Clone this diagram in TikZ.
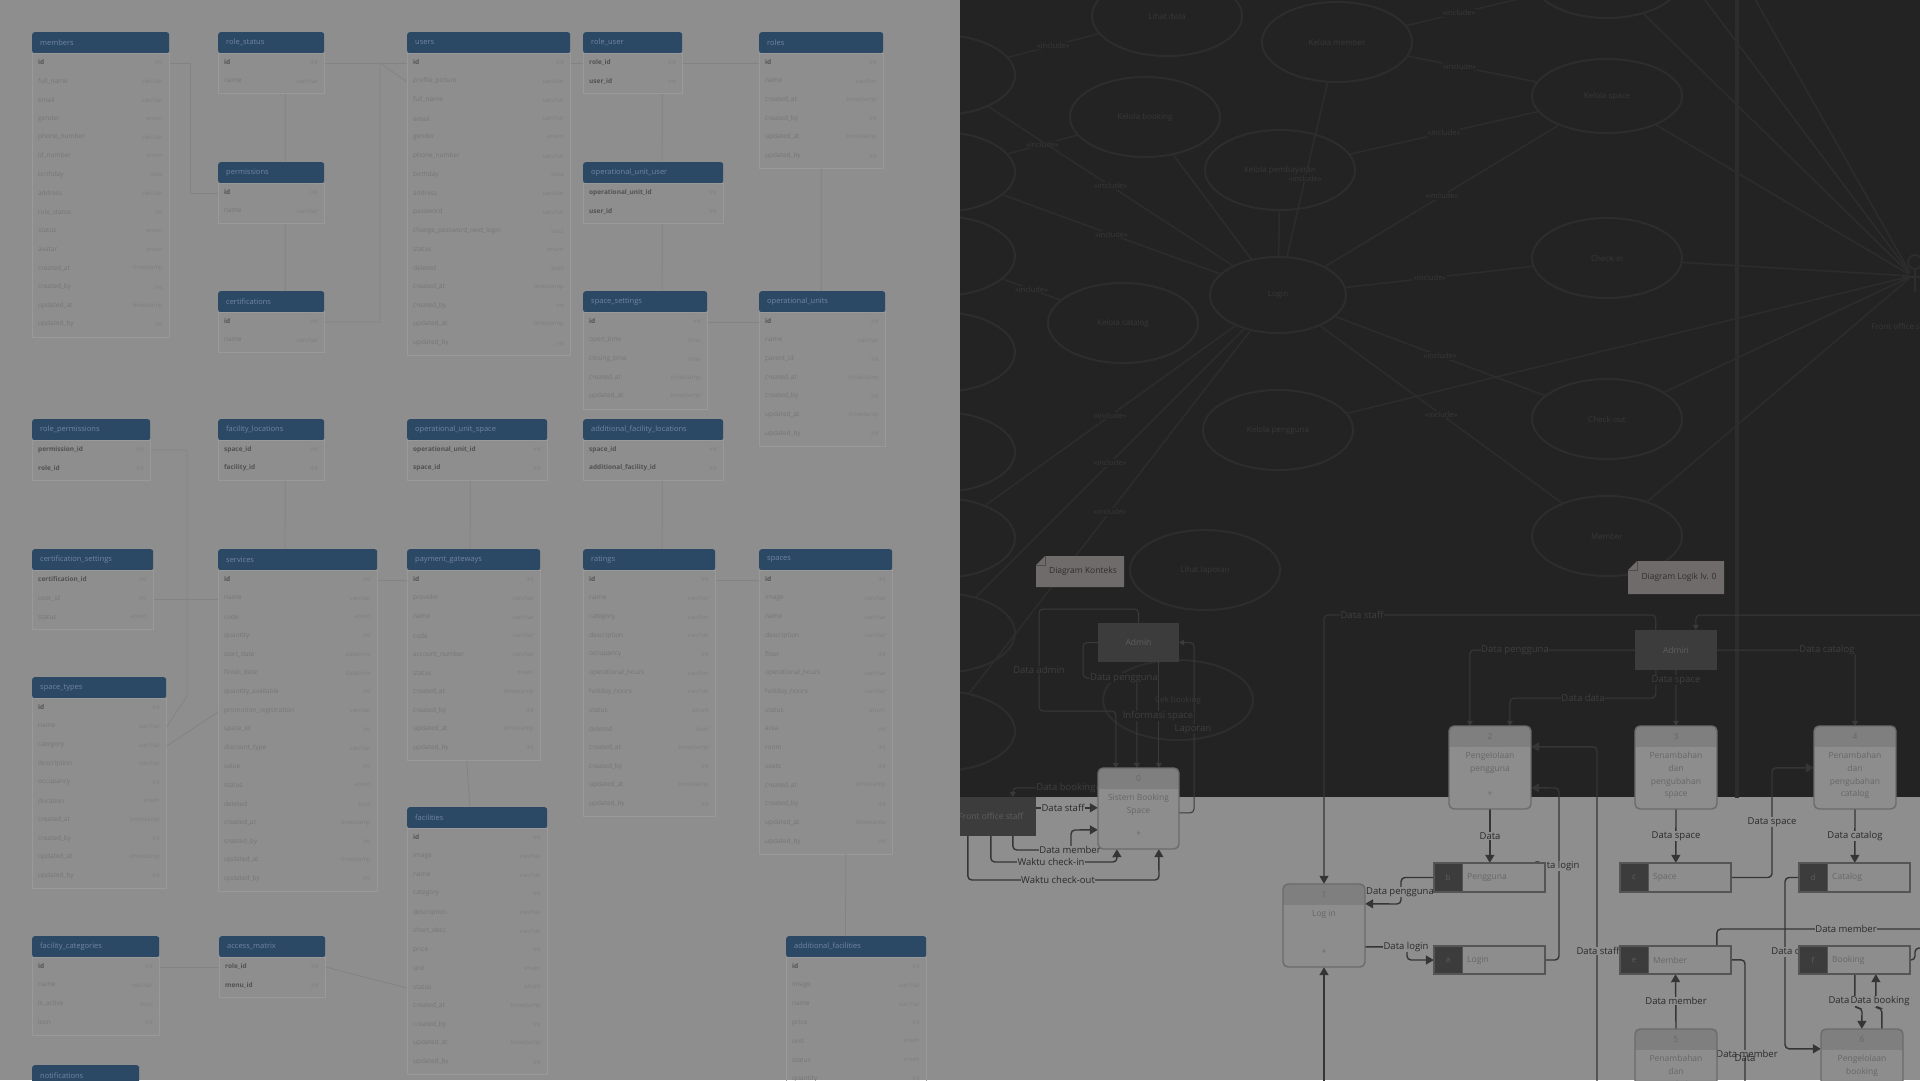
\documentclass[tikz,border=0pt]{standalone}
\usepackage{fontspec}
\setmainfont{Open Sans}
\usetikzlibrary{arrows.meta,shapes.geometric,calc}

\definecolor{lbg}{HTML}{8E8E8E}
\definecolor{dbg}{HTML}{232323}
\definecolor{hdr}{HTML}{2B4865}
\definecolor{hdrtxt}{HTML}{7187A0}
\definecolor{rowtxt}{HTML}{767676}
\definecolor{rowkey}{HTML}{525252}
\definecolor{ertypec}{HTML}{7F7F7F}
\definecolor{rowline}{HTML}{999999}
\definecolor{erlink}{HTML}{838383}
\definecolor{ucline}{HTML}{2C2C2C}
\definecolor{ucstroke}{HTML}{2D2D2D}
\definecolor{uctxt}{HTML}{383838}
\definecolor{flowc}{HTML}{353535}
\definecolor{dimc}{HTML}{3A3A3A}
\definecolor{flowtxt}{HTML}{2A2A2A}
\definecolor{dimtxt}{HTML}{3F3F3F}
\definecolor{procfill}{HTML}{8D8D8D}
\definecolor{prochdr}{HTML}{7F7F7F}
\definecolor{procline}{HTML}{6B6B6B}
\definecolor{proctxt}{HTML}{676767}
\definecolor{entfill}{HTML}{3C3C3C}
\definecolor{enttxt}{HTML}{5E5E5E}
\definecolor{storeline}{HTML}{555555}
\definecolor{notefill}{HTML}{6F6B6B}
\definecolor{notetxt}{HTML}{2E2E2E}

\pgfdeclarelayer{bgl}
\pgfdeclarelayer{ucl}
\pgfdeclarelayer{flowl}
\pgfdeclarelayer{topl}
\pgfsetlayers{bgl,ucl,flowl,main,topl}

\newcommand{\erkey}[1]{\textcolor{rowkey}{\textbf{#1}}}

\tikzset{
  erhead/.style={fill=hdr, rounded corners=2.5pt, inner sep=0pt, minimum height=21pt},
  erhtxt/.style={text=hdrtxt, font=\fontsize{7.5}{9}\selectfont, inner sep=0pt},
  erbody/.style={draw=rowline, line width=0.6pt, inner sep=0pt},
  errow/.style={text=rowtxt, font=\fontsize{6.5}{8}\selectfont, inner sep=0pt},
  ertype/.style={text=ertypec, font=\fontsize{6}{7}\selectfont, inner sep=0pt},
  erlk/.style={draw=erlink, line width=0.8pt},
  ucell/.style={ellipse, draw=ucstroke, line width=2pt, inner sep=0pt, minimum width=150pt, minimum height=80pt, text=uctxt, font=\fontsize{8}{10}\selectfont},
  ucln/.style={draw=ucline, line width=1.6pt},
  uclbl/.style={fill=dbg, inner sep=1pt, text=uctxt, font=\fontsize{7.5}{9}\selectfont},
  fl/.style={draw=flowc, line width=1.4pt, rounded corners=4pt},
  fla/.style={fl, -{Triangle[width=9pt,length=8pt]}},
  dl/.style={draw=dimc, line width=1pt, rounded corners=4pt},
  dla/.style={dl, -{Triangle[width=6pt,length=5pt]}},
  fll/.style={fill=lbg, inner sep=0.6pt, text=flowtxt, font=\fontsize{9.5}{11}\selectfont},
  fln/.style={inner sep=0.6pt, text=flowtxt, font=\fontsize{9.5}{11}\selectfont},
  dll/.style={fill=dbg, inner sep=0.6pt, text=dimtxt, font=\fontsize{9.5}{11}\selectfont},
  proctext/.style={text=proctxt, font=\fontsize{8.5}{12.7}\selectfont, inner sep=0pt},
  entbox/.style={fill=entfill, inner sep=0pt, text=enttxt, font=\fontsize{8.5}{10}\selectfont},
  storeid/.style={text=enttxt, font=\fontsize{8}{10}\selectfont, inner sep=0pt},
  notetext/.style={text=notetxt, font=\fontsize{8.5}{10}\selectfont, inner sep=0pt},
}

% ER table: id, x, y, width, title, number of rows, rows
\newcommand{\ertab}[7]{%
  \node[erhead, minimum width=#4pt, anchor=north west] (#1) at (#2,#3) {};
  \node[erhtxt, anchor=west] (#1-h) at (#2+8,#3+10.5) {#5};
  \node[erbody, minimum width=#4pt, minimum height={#6*18.7pt+3pt}, anchor=north west] (#1b) at (#2,#3+21) {};
  \foreach \rn/\rt [count=\k] in {#7} {
    \node[errow, anchor=west] (#1-c\k) at (#2+6, #3+21+9.5+18.7*\k-18.7) {\rn};
    \node[ertype, anchor=east] (#1-d\k) at (#2+#4-6, #3+21+9.5+18.7*\k-18.7) {\rt};
  }
}

% process: name, x1, y1, x2, y2, number, text, bottom mark
\newcommand{\procbox}[8]{%
  \begin{scope}
    \clip[rounded corners=5pt] (#2,#3) rectangle (#4,#5);
    \fill[procfill] (#2,#3) rectangle (#4,#5);
    \fill[prochdr] (#2,#3) rectangle (#4,#3+21);
  \end{scope}
  \draw[procline, line width=1.4pt, rounded corners=5pt] (#2,#3) rectangle (#4,#5);
  \node[inner sep=0pt, minimum width={#4pt-#2pt}, minimum height={#5pt-#3pt}] (#1) at ({(#2+#4)/2},{(#3+#5)/2}) {};
  \node[proctext] (#1-n) at ({(#2+#4)/2},#3+10.5) {#6};
  \node[proctext, anchor=north, align=center] (#1-t) at ({(#2+#4)/2},#3+26) {#7};
  \node[proctext] (#1-p) at ({(#2+#4)/2},#5-15) {#8};
}

% data store: name, x1, y1, x2, y2, id, text
\newcommand{\dstore}[7]{%
  \fill[entfill] (#2,#3) rectangle (#2+28,#5);
  \fill[procfill] (#2+28,#3) rectangle (#4,#5);
  \draw[storeline, line width=1.8pt] (#2,#3) rectangle (#4,#5);
  \draw[storeline, line width=0.8pt] (#2+28,#3) -- (#2+28,#5);
  \node[inner sep=0pt, minimum width={#4pt-#2pt}, minimum height={#5pt-#3pt}] (#1) at ({(#2+#4)/2},{(#3+#5)/2}) {};
  \node[storeid] (#1-i) at (#2+14,{(#3+#5)/2}) {#6};
  \node[proctext, anchor=west] (#1-t) at (#2+33,{(#3+#5)/2}) {#7};
}

% external entity: name, x1, y1, x2, y2, text
\newcommand{\extent}[6]{%
  \node[entbox, minimum width={#4pt-#2pt}, minimum height={#5pt-#3pt}] (#1) at ({(#2+#4)/2},{(#3+#5)/2}) {#6};
}

% note: name, x1, y1, x2, y2, text
\newcommand{\notebox}[6]{%
  \fill[notefill] (#2+9,#3) -- (#4,#3) -- (#4,#5) -- (#2,#5) -- (#2,#3+9) -- cycle;
  \draw[notetxt!50!notefill, line width=0.6pt] (#2,#3+9) -- (#2+9,#3+9) -- (#2+9,#3);
  \node[notetext] (#1) at ({(#2+#4)/2+3},{(#3+#5)/2}) {#6};
}

\begin{document}
\begin{tikzpicture}[x=1pt,y=-1pt]
\useasboundingbox (0,0) rectangle (1920,1080);

% ---------- backgrounds ----------
\begin{pgfonlayer}{bgl}
\fill[dbg] (960,0) rectangle (1920,797);
\fill[lbg] (960,797) rectangle (1920,1080);
\end{pgfonlayer}

% ---------- use case diagram (dark area) ----------
\begin{pgfonlayer}{ucl}
\begin{scope}
\clip (960,0) rectangle (1920,797);
\draw[ucstroke, line width=4pt] (1737,-5) -- (1737,800);
\node[ucell] (uc1) at (1167,16) {Lihat data};
\node[ucell] (uc2) at (1337,42) {Kelola member};
\node[ucell] (uc3) at (1145,117) {Kelola booking};
\node[ucell] (uc4) at (1280,170) {Kelola pembayaran};
\node[ucell, minimum width=136pt, minimum height=76pt] (uc5) at (1278,295) {Login};
\node[ucell] (uc6) at (1123,323) {Kelola catalog};
\node[ucell] (uc7) at (1278,430) {Kelola pengguna};
\node[ucell] (uc8) at (1205,570) {Lihat laporan};
\node[ucell] (uc9) at (1178,700) {Cek booking};
\node[ucell, minimum height=74pt] (uc10) at (1607,96) {Kelola space};
\node[ucell] (uc11) at (1607,258) {Check-in};
\node[ucell] (uc12) at (1607,419) {Check-out};
\node[ucell] (uc13) at (1607,536) {Member};
\node[ucell] (uc14) at (1607,-22) {Booking};
\node[ucell] (lf1) at (940,75) {Kelola data};
\node[ucell] (lf2) at (940,172) {Kelola data};
\node[ucell] (lf3) at (940,256) {Kelola data};
\node[ucell] (lf4) at (940,352) {Kelola data};
\node[ucell] (lf5) at (940,452) {Kelola data};
\node[ucell] (lf6) at (940,538) {Kelola data};
\node[ucell] (lf7) at (940,633) {Kelola data};
\node[ucell] (lf8) at (940,731) {Kelola data};
\node[inner sep=0pt, minimum size=6pt] (actor) at (1912,276) {};
\coordinate (offA) at (1660,-60);
\coordinate (offB) at (1710,-80);
\draw[ucstroke, line width=1.8pt] (1915,262) circle (7);
\draw[ucstroke, line width=1.8pt] (1915,269) -- (1915,292) (1902,277) -- (1928,277);
\node[anchor=west, text=uctxt, font=\fontsize{8}{10}\selectfont] (actorlbl) at (1868,326) {Front office staff};
\draw[ucln] (uc5) -- node[uclbl, pos=0.45] (i1) {«include»} (uc11);
\draw[ucln] (uc5) -- node[uclbl, pos=0.5] (i2) {«include»} (uc12);
\draw[ucln] (uc5) -- node[uclbl, pos=0.5] (i3) {«include»} (uc13);
\draw[ucln] (uc5) -- node[uclbl, pos=0.5] (i4) {«include»} (uc10);
\draw[ucln] (uc4) -- node[uclbl, pos=0.5] (i5) {«include»} (uc10);
\draw[ucln] (uc2) -- node[uclbl, pos=0.4] (i6) {«include»} (uc14);
\draw[ucln] (uc2) -- node[uclbl, pos=0.4] (i7) {«include»} (uc10);
\draw[ucln] (uc5) -- (uc3);
\draw[ucln] (uc5) -- (uc4);
\draw[ucln] (uc5) -- node[uclbl, pos=0.45] (i8) {«include»} (uc2);
\draw[ucln] (lf1) -- node[uclbl, pos=0.5] (i9) {«include»} (uc1);
\draw[ucln] (lf2) -- node[uclbl, pos=0.5] (i10) {«include»} (uc3);
\draw[ucln] (lf1) -- node[uclbl, pos=0.5] (i11) {«include»} (uc5);
\draw[ucln] (lf2) -- node[uclbl, pos=0.5] (i12) {«include»} (uc5);
\draw[ucln] (lf3) -- node[uclbl, pos=0.5] (i13) {«include»} (uc6);
\draw[ucln] (lf6) -- node[uclbl, pos=0.5] (i14) {«include»} (uc5);
\draw[ucln] (lf7) -- node[uclbl, pos=0.5] (i15) {«include»} (uc5);
\draw[ucln] (lf8) -- node[uclbl, pos=0.5] (i16) {«include»} (uc5);
\draw[ucln] (actor) -- (uc14);
\draw[ucln] (actor) -- (uc10);
\draw[ucln] (actor) -- (uc11);
\draw[ucln] (actor) -- (uc12);
\draw[ucln] (actor) -- (uc13);
\draw[ucln] (actor) -- (uc7);
\draw[ucln] (actor) -- (offA);
\draw[ucln] (actor) -- (offB);
\end{scope}
\end{pgfonlayer}

% ---------- DFD boxes ----------
\notebox{notek}{1036}{556}{1124}{587}{Diagram Konteks}
\notebox{notel}{1628}{561}{1724}{594}{Diagram Logik lv. 0}
\extent{adm0}{1098}{623}{1179}{662}{Admin}
\extent{fos}{940}{797}{1036}{836}{\hspace*{6pt}Front office staff}
\extent{adm1}{1635}{630}{1717}{670}{Admin}
\procbox{p0}{1098}{768}{1179}{849}{0}{Sistem Booking\\Space}{+}
\procbox{p1}{1283}{884}{1365}{967}{1}{Log in}{+}
\procbox{p2}{1449}{726}{1531}{809}{2}{Pengelolaan\\pengguna}{+}
\procbox{p3}{1635}{726}{1717}{809}{3}{Penambahan\\dan\\pengubahan\\space}{}
\procbox{p4}{1814}{726}{1896}{809}{4}{Penambahan\\dan\\pengubahan\\catalog}{}
\procbox{p5}{1635}{1029}{1717}{1112}{5}{Penambahan\\dan\\pengubahan\\member}{}
\procbox{p6}{1821}{1029}{1903}{1112}{6}{Pengelolaan\\booking}{}
\dstore{sb}{1434}{863}{1545}{892}{b}{Pengguna}
\dstore{sa}{1434}{946}{1545}{974}{a}{Login}
\dstore{sc}{1620}{863}{1731}{892}{c}{Space}
\dstore{sd}{1799}{863}{1910}{892}{d}{Catalog}
\dstore{se}{1620}{946}{1731}{974}{e}{Member}
\dstore{sf}{1799}{946}{1910}{974}{f}{Booking}

% ---------- flows ----------
\begin{pgfonlayer}{flowl}
\coordinate (offR1) at (1925,615);
\coordinate (offR2) at (1925,929);
\coordinate (offR3) at (1925,948);
\coordinate (offB1) at (1597,1090);
\coordinate (offB2) at (1324,1090);
\coordinate (offB3) at (1745,1090);
% context diagram
\draw[fla] ($(fos.north east)+(0,11)$) -- ($(p0.north west)+(0,40)$);
\draw[fla] ($(fos.south west)+(73,0)$) |- (1071,850) -- (1071,830) -- ($(p0.north west)+(0,62)$);
\draw[fla] ($(fos.south west)+(51,0)$) |- (1117,862) -- ($(p0.south west)+(19,0)$);
\draw[fla] ($(fos.south west)+(28,0)$) |- (1159,880) -- ($(p0.south west)+(61,0)$);
\draw[dla] ($(p0.north west)+(0,20)$) -| ($(fos.north west)+(73,0)$);
\draw[dla] ($(p0.north east)+(0,45)$) -- (1194,813) -- (1194,642.5) -- (adm0.east);
\draw[dla] (adm0.north) |- (1039,609) -- (1039,711) -| ($(p0.north west)+(18,0)$);
\draw[dla] (adm0.west) -- (1083,642.5) -- (1083,678) -| ($(p0.north west)+(39,0)$);
\draw[dla] ($(adm0.south west)+(61,0)$) -- ($(p0.north west)+(61,0)$);
% level 0
\draw[fla, line width=1.2pt] ($(adm1.north west)+(21,0)$) |- (1324,615) -- (p1.north);
\draw[dla] (offR1) -| ($(adm1.north west)+(61,0)$);
\draw[dla] (adm1.west) -| ($(p2.north west)+(21,0)$);
\draw[dla] ($(adm1.south west)+(21,0)$) |- (1510,698) -- ($(p2.north west)+(61,0)$);
\draw[dla] ($(adm1.south west)+(41,0)$) -- (p3.north);
\draw[dla] (adm1.east) -| (p4.north);
\draw[fla] (offB1) |- ($(p2.north east)+(0,21)$);
\draw[fla] (sa.east) -| (1559,788) -- ($(p2.north east)+(0,62)$);
\draw[fla] ($(p2.south west)+(41,0)$) -- ($(sb.north west)+(56,0)$);
\draw[fla] (sb.west) -- (1401,877.5) -- (1401,904) -- ($(p1.north east)+(0,20)$);
\draw[fla] ($(p1.north east)+(0,63)$) -- (1407,947) -- (1407,960) -- (sa.west);
\draw[fla] (offB2) -- (p1.south);
\draw[fla] (p3.south) -- ($(sc.north west)+(56,0)$);
\draw[fla] (sc.east) -| (1772,800) |- ($(p4.north west)+(0,42)$);
\draw[fla] (p4.south) -- ($(sd.north west)+(56,0)$);
\draw[fla] (sd.west) -| (1785,1000) |- ($(p6.north west)+(0,20)$);
\draw[fl] ($(se.north west)+(97,0)$) |- (offR2);
\draw[fl] ($(se.north east)+(0,14)$) -| (offB3);
\draw[fla] (p5.north) -- (se.south);
\draw[fla] ($(sf.south west)+(56,0)$) |- (1862,1008) -- ($(p6.north west)+(41,0)$);
\draw[fla] ($(p6.north west)+(61,0)$) |- (1876,1008) -- ($(sf.south west)+(77,0)$);
\draw[fl] (sf.east) -- (1915,960) |- (offR3);
% labels
\node[fll] (c1) at (1063,808) {Data staff};
\node[fll] (c2) at (1070,850) {Data member};
\node[fll] (c3) at (1051,862) {Waktu check-in};
\node[fll] (c4) at (1058,880) {Waktu check-out};
\node[dll] (c5) at (1066,788) {Data booking};
\node[dll] (c6) at (1193,729) {Laporan};
\node[dll] (c7) at (1039,670) {Data admin};
\node[dll] (c8) at (1124,678) {Data pengguna};
\node[dll] (c9) at (1158,716) {Informasi space};
\node[dll] (l1) at (1362,615) {Data staff};
\node[dll] (l2) at (1515,650) {Data pengguna};
\node[dll] (l3) at (1583,698) {Data data};
\node[dll] (l4) at (1676,680) {Data space};
\node[dll] (l5) at (1827,650) {Data catalog};
\node[fll] (l6) at (1598,951) {Data staff};
\node[fll] (l7) at (1557,866) {Data login};
\node[fll] (l8) at (1490,836) {Data};
\node[fll] (l9) at (1400,892) {Data pengguna};
\node[fll] (l10) at (1406,947) {Data login};
\node[fll] (l11) at (1676,836) {Data space};
\node[fll] (l12) at (1772,822) {Data space};
\node[fll] (l13) at (1855,836) {Data catalog};
\node[fll] (l14) at (1799,952) {Data catalog};
\node[fll] (l15) at (1846,929) {Data member};
\node[fll] (l16) at (1747,1054) {Data member};
\node[fln] (l17) at (1745,1058) {Data};
\node[fll] (l18) at (1676,1001) {Data member};
\node[fll] (l19) at (1858,1001) {Data booking};
\node[fll] (l20) at (1880,1001) {Data booking};
\end{pgfonlayer}

% ---------- left panel: ER diagram ----------
\begin{pgfonlayer}{topl}
\fill[lbg] (0,0) rectangle (960,1080);
\ertab{t1}{32}{32}{137}{members}{15}{\erkey{id}/int, full\_name/varchar, email/varchar, gender/enum, phone\_number/varchar, id\_number/enum, birthday/date, address/varchar, role\_status/int, status/enum, avatar/enum, created\_at/timestamp, created\_by/int, updated\_at/timestamp, updated\_by/int}
\ertab{t2}{218}{32}{106}{role\_status}{2}{\erkey{id}/int, name/varchar}
\ertab{t3}{218}{162}{106}{permissions}{2}{\erkey{id}/int, name/varchar}
\ertab{t4}{218}{291}{106}{certifications}{2}{\erkey{id}/int, name/varchar}
\ertab{t5}{407}{32}{163}{users}{16}{\erkey{id}/int, profile\_picture/varchar, full\_name/varchar, email/varchar, gender/enum, phone\_number/varchar, birthday/date, address/varchar, password/varchar, change\_password\_next\_login/bool, status/enum, deleted/bool, created\_at/timestamp, created\_by/int, updated\_at/timestamp, updated\_by/int}
\ertab{t6}{583}{32}{99}{role\_user}{2}{\erkey{role\_id}/int, \erkey{user\_id}/int}
\ertab{t7}{583}{162}{140}{operational\_unit\_user}{2}{\erkey{operational\_unit\_id}/int, \erkey{user\_id}/int}
\ertab{t8}{583}{291}{124}{space\_settings}{5}{\erkey{id}/int, open\_time/time, closing\_time/time, created\_at/timestamp, updated\_at/timestamp}
\ertab{t9}{759}{32}{124}{roles}{6}{\erkey{id}/int, name/varchar, created\_at/timestamp, created\_by/int, updated\_at/timestamp, updated\_by/int}
\ertab{t10}{759}{291}{126}{operational\_units}{7}{\erkey{id}/int, name/varchar, parent\_id/int, created\_at/timestamp, created\_by/int, updated\_at/timestamp, updated\_by/int}
\ertab{t11}{32}{419}{118}{role\_permissions}{2}{\erkey{permission\_id}/int, \erkey{role\_id}/int}
\ertab{t12}{218}{419}{106}{facility\_locations}{2}{\erkey{space\_id}/int, \erkey{facility\_id}/int}
\ertab{t13}{407}{419}{140}{operational\_unit\_space}{2}{\erkey{operational\_unit\_id}/int, \erkey{space\_id}/int}
\ertab{t14}{583}{419}{140}{additional\_facility\_locations}{2}{\erkey{space\_id}/int, \erkey{additional\_facility\_id}/int}
\ertab{t15}{32}{549}{121}{certification\_settings}{3}{\erkey{certification\_id}/int, user\_id/int, status/enum}
\ertab{t16}{218}{549}{159}{services}{17}{\erkey{id}/int, name/varchar, code/enum, quantity/int, start\_date/datetime, finish\_date/datetime, quantity\_available/int, promotion\_registration/varchar, space\_id/int, discount\_type/varchar, value/int, status/enum, deleted/bool, created\_at/timestamp, created\_by/int, updated\_at/timestamp, updated\_by/int}
\ertab{t17}{407}{549}{133}{payment\_gateways}{10}{\erkey{id}/int, provider/varchar, name/varchar, code/varchar, account\_number/varchar, status/enum, created\_at/timestamp, created\_by/int, updated\_at/timestamp, updated\_by/int}
\ertab{t18}{583}{549}{132}{ratings}{13}{\erkey{id}/int, name/varchar, category/varchar, description/varchar, occupancy/int, operational\_hours/varchar, holiday\_hours/varchar, status/enum, deleted/bool, created\_at/timestamp, created\_by/int, updated\_at/timestamp, updated\_by/int}
\ertab{t19}{759}{549}{133}{spaces}{15}{\erkey{id}/int, image/varchar, name/varchar, description/varchar, floor/int, operational\_hours/varchar, holiday\_hours/varchar, status/enum, area/int, room/int, seats/int, created\_at/timestamp, created\_by/int, updated\_at/timestamp, updated\_by/int}
\ertab{t20}{32}{677}{134}{space\_types}{10}{\erkey{id}/int, name/varchar, category/varchar, description/varchar, occupancy/int, duration/enum, created\_at/timestamp, created\_by/int, updated\_at/timestamp, updated\_by/int}
\ertab{t21}{407}{807}{140}{facilities}{13}{\erkey{id}/int, image/varchar, name/varchar, category/int, description/varchar, short\_desc/varchar, price/int, unit/enum, status/enum, created\_at/timestamp, created\_by/int, updated\_at/timestamp, updated\_by/int}
\ertab{t22}{32}{936}{127}{facility\_categories}{4}{\erkey{id}/int, name/varchar, is\_active/bool, icon/int}
\ertab{t23}{219}{936}{106}{access\_matrix}{2}{\erkey{role\_id}/int, \erkey{menu\_id}/int}
\ertab{t24}{786}{936}{140}{additional\_facilities}{8}{\erkey{id}/int, image/varchar, name/varchar, price/int, unit/enum, status/enum, quantity/int, created\_at/timestamp}
\ertab{t25}{32}{1065}{107}{notifications}{1}{\erkey{id}/int}
% relations
\draw[erlk] ($(t1b.north east)+(0,10)$) -- (190,63) -- (190,193) -- ($(t3b.north west)+(0,10)$);
\draw[erlk] ($(t2b.south)+(14,0)$) -- ($(t3.north)+(14,0)$);
\draw[erlk] ($(t3b.south)+(14,0)$) -- ($(t4.north)+(14,0)$);
\draw[erlk] ($(t2b.north east)+(0,10)$) -- ($(t5b.north west)+(0,10)$);
\draw[erlk] ($(t5b.north east)+(0,10)$) -- ($(t6b.north west)+(0,10)$);
\draw[erlk] ($(t6b.north east)+(0,10)$) -- ($(t9b.north west)+(0,10)$);
\draw[erlk] ($(t6b.south)+(29.5,0)$) -- ($(t7.north west)+(79,0)$);
\draw[erlk] ($(t7b.south)+(9,0)$) -- ($(t8.north west)+(79,0)$);
\draw[erlk] ($(t8b.north east)+(0,10)$) -- ($(t10b.north west)+(0,10)$);
\draw[erlk] ($(t9b.south)+(0,0)$) -- ($(t10.north)+(-1,0)$);
\draw[erlk] ($(t4b.north east)+(0,10)$) -- (380,322) -- (380,63) -- ($(t5b.north west)+(0,29)$);
\draw[erlk] ($(t11b.north east)+(0,10)$) -- (187,450) -- (187,696) -- ($(t20b.north east)+(0,29)$);
\draw[erlk] ($(t12b.south)+(14,0)$) -- ($(t16.north west)+(67,0)$);
\draw[erlk] ($(t13b.south)+(-7,0)$) -- ($(t17.north west)+(63,0)$);
\draw[erlk] ($(t14b.south)+(9,0)$) -- ($(t18.north west)+(79,0)$);
\draw[erlk] ($(t15b.north east)+(0,29)$) -- ($(t16b.north west)+(0,29)$);
\draw[erlk] ($(t16b.north east)+(0,10)$) -- ($(t17b.north west)+(0,10)$);
\draw[erlk] ($(t17b.south)+(-7,0)$) -- ($(t21.north west)+(63,0)$);
\draw[erlk] ($(t18b.north east)+(0,10)$) -- ($(t19b.north west)+(0,10)$);
\draw[erlk] ($(t19b.south)+(20,0)$) -- ($(t24.north west)+(59.5,0)$);
\draw[erlk] ($(t20b.north east)+(0,48)$) -- ($(t16b.north west)+(0,142)$);
\draw[erlk] ($(t22b.north east)+(0,10)$) -- ($(t23b.north west)+(0,10)$);
\draw[erlk] ($(t23b.north east)+(0,10)$) -- ($(t21b.north west)+(0,160)$);
\end{pgfonlayer}
\end{tikzpicture}
\end{document}
